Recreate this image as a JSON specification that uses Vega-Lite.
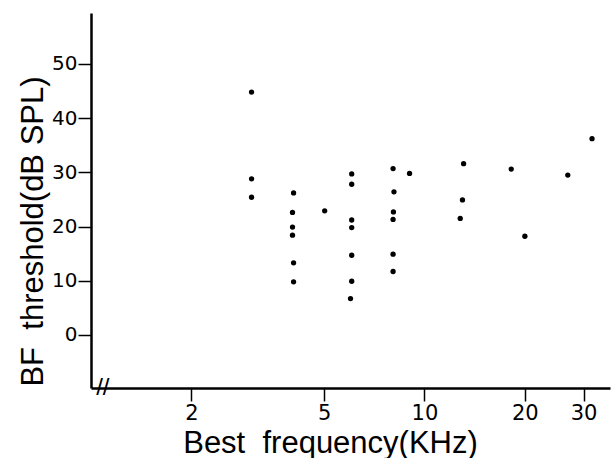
{
  "$schema": "https://vega.github.io/schema/vega-lite/v6.json",
  "width": 519,
  "height": 375,
  "autosize": {"type": "none"},
  "padding": {"left": 91, "top": 13, "right": 4, "bottom": 70},
  "background": "white",
  "config": {
    "view": {"stroke": null},
    "axis": {"grid": false, "domainColor": "black", "tickColor": "black", "labelColor": "black", "titleColor": "black"}
  },
  "datasets": {
    "pts": [
      {"bf": 3.03, "thr": 44.8},
      {"bf": 3.03, "thr": 28.8},
      {"bf": 3.03, "thr": 25.4},
      {"bf": 4.05, "thr": 26.2},
      {"bf": 4.02, "thr": 22.6},
      {"bf": 4.02, "thr": 19.9},
      {"bf": 4.02, "thr": 18.4},
      {"bf": 4.05, "thr": 13.3},
      {"bf": 4.05, "thr": 9.8},
      {"bf": 5.02, "thr": 22.9},
      {"bf": 6.05, "thr": 29.7},
      {"bf": 6.05, "thr": 27.8},
      {"bf": 6.05, "thr": 21.2},
      {"bf": 6.05, "thr": 19.8},
      {"bf": 6.05, "thr": 14.7},
      {"bf": 6.05, "thr": 9.9},
      {"bf": 6.0, "thr": 6.7},
      {"bf": 8.05, "thr": 30.7},
      {"bf": 8.1, "thr": 26.4},
      {"bf": 8.07, "thr": 22.7},
      {"bf": 8.05, "thr": 21.3},
      {"bf": 8.05, "thr": 14.9},
      {"bf": 8.05, "thr": 11.7},
      {"bf": 9.02, "thr": 29.8},
      {"bf": 13.1, "thr": 31.6},
      {"bf": 13.0, "thr": 24.9},
      {"bf": 12.8, "thr": 21.5},
      {"bf": 18.2, "thr": 30.6},
      {"bf": 20.0, "thr": 18.2},
      {"bf": 26.9, "thr": 29.5},
      {"bf": 31.8, "thr": 36.2}
    ],
    "brk": [{"bf": 1.085, "thr": -9.8, "label": "//"}]
  },
  "layer": [
    {
      "data": {"name": "pts"},
      "mark": {"type": "point", "filled": true, "color": "black", "size": 28, "opacity": 1, "shape": "circle"},
      "encoding": {
        "x": {
          "field": "bf", "type": "quantitative",
          "scale": {"type": "log", "domain": [1, 36], "nice": false},
          "axis": {
            "values": [2, 5, 10, 20, 30],
            "title": "Best\u00a0 frequency(KHz)",
            "titleFont": "Liberation Sans", "titleFontSize": 31, "titleFontWeight": "normal",
            "titleX": 239, "titleY": 64, "titleBaseline": "alphabetic",
            "labelFont": "DejaVu Sans", "labelFontSize": 21, "labelPadding": 1,
            "tickSize": 13, "tickWidth": 1.5, "domainWidth": 2.5
          }
        },
        "y": {
          "field": "thr", "type": "quantitative",
          "scale": {"domain": [-9.8, 59.4], "nice": false, "zero": false},
          "axis": {
            "values": [0, 10, 20, 30, 40, 50],
            "title": "BF\u00a0 threshold(dB SPL)",
            "titleFont": "Liberation Sans", "titleFontSize": 31, "titleFontWeight": "normal",
            "titleX": -49, "titleY": 218, "titleBaseline": "alphabetic",
            "labelFont": "DejaVu Sans", "labelFontSize": 20, "labelPadding": 1,
            "tickSize": 13, "tickWidth": 1.5, "domainWidth": 2.5
          }
        }
      }
    },
    {
      "data": {"name": "brk"},
      "mark": {"type": "text", "font": "Liberation Sans", "fontSize": 24, "baseline": "middle", "align": "center", "color": "black", "clip": false},
      "encoding": {
        "x": {"field": "bf", "type": "quantitative"},
        "y": {"field": "thr", "type": "quantitative"},
        "text": {"field": "label"}
      }
    }
  ]
}
